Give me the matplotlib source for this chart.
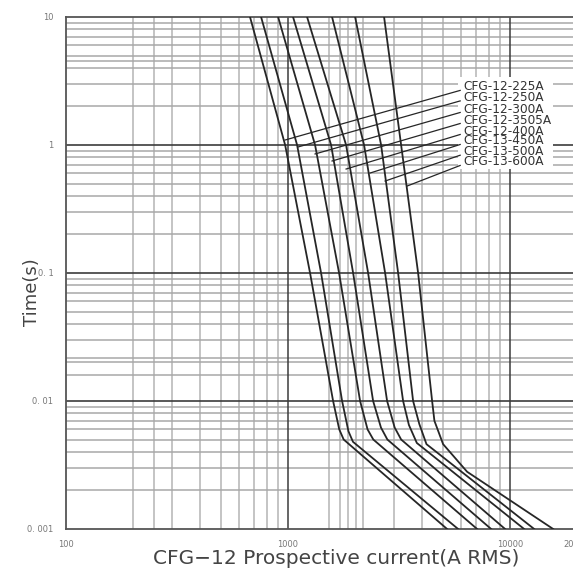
import matplotlib
matplotlib.use("Agg")
import matplotlib.pyplot as plt
from matplotlib.patches import Rectangle

# fuse curves: (prospective current A, time s)
names = ["CFG-12-225A", "CFG-12-250A", "CFG-12-300A", "CFG-12-3505A",
         "CFG-12-400A", "CFG-13-450A", "CFG-13-500A", "CFG-13-600A"]

times = [10, 1, 0.1, 0.01]
cur_top = [
    [674, 970, 1256, 1595],
    [756, 1098, 1408, 1751],
    [902, 1323, 1697, 2110],
    [1053, 1562, 1963, 2415],
    [1218, 1825, 2293, 2792],
    [1578, 2199, 2735, 3296],
    [2004, 2624, 3130, 3656],
    [2706, 3229, 3851, 4453],
]
# knee and tail of each curve: (current, time)
tails = [
    [(1700, 0.0060), (1780, 0.0050), (5200, 0.001)],
    [(1870, 0.0058), (1960, 0.0048), (5830, 0.001)],
    [(2280, 0.0060), (2420, 0.0050), (7100, 0.001)],
    [(2620, 0.0062), (2800, 0.0050), (8210, 0.001)],
    [(3020, 0.0062), (3230, 0.0050), (9490, 0.001)],
    [(3500, 0.0065), (3800, 0.0047), (11560, 0.001)],
    [(3900, 0.0066), (4200, 0.0046), (12830, 0.001)],
    [(4560, 0.0070), (4990, 0.0046), (6400, 0.0028), (15620, 0.001)],
]

# leader lines: point on curve, label position
lead_pts = [(970, 1.094), (1109, 0.965), (1323, 0.851), (1578, 0.75),
            (1825, 0.649), (2340, 0.604), (2735, 0.523), (3436, 0.478)]
lead_end = [2.67, 2.21, 1.795, 1.472, 1.208, 1.009, 0.832, 0.692]
label_t = [2.84, 2.36, 1.91, 1.567, 1.286, 1.075, 0.887, 0.737]
label_x = 5955

x_minor = [200, 250, 300, 400, 500, 600, 700, 800, 900,
           1530, 1715, 1860, 2020, 2180, 3000, 4000, 5000, 6000, 7000, 8000, 9000]
x_major = [1000, 10000]
y_minor = [2, 3, 4, 4.5, 5, 6, 7, 8, 9,
           0.2, 0.3, 0.4, 0.5, 0.6, 0.7, 0.8, 0.9,
           0.016, 0.02, 0.0217, 0.03, 0.04, 0.05, 0.06, 0.07, 0.08, 0.09,
           0.002, 0.003, 0.004, 0.005, 0.006, 0.007, 0.008, 0.009]
y_major = [1, 0.1, 0.01]

fig = plt.figure(figsize=(5.73, 5.70), dpi=100)
ax = fig.add_axes([66 / 573, 41 / 570, 511 / 573, 512 / 570])
ax.set_xscale("log")
ax.set_yscale("log")
ax.set_xlim(100, 20000)
ax.set_ylim(0.001, 10)

for v in x_minor:
    ax.axvline(v, color="#b4b4b4", lw=1.1, zorder=1)
for v in y_minor:
    ax.axhline(v, color="#a8a8a8", lw=1.1, zorder=1)
for v in x_major:
    ax.axvline(v, color="#3c3c3c", lw=1.1, zorder=2)
for v in y_major:
    ax.axhline(v, color="#3c3c3c", lw=1.2, zorder=2)

for top, tail in zip(cur_top, tails):
    xs = top + [p[0] for p in tail]
    ys = times + [p[1] for p in tail]
    ax.plot(xs, ys, color="#262626", lw=1.3, zorder=4)

# white panel behind the labels
ax.add_patch(Rectangle((5830, 0.655), 15620 - 5830, 3.4 - 0.655,
                       facecolor="white", edgecolor="none", zorder=3))

for (cx, cy), ey, ty, nm in zip(lead_pts, lead_end, label_t, names):
    ax.plot([cx, label_x], [cy, ey], color="#262626", lw=0.9, zorder=4)
    ax.text(label_x * 1.03, ty, nm, fontsize=8.7, color="#333333",
            va="center", ha="left", zorder=5)

for s in ["left", "bottom", "top"]:
    ax.spines[s].set_color("#555555")
    ax.spines[s].set_linewidth(1.3)
ax.spines["right"].set_visible(False)

ax.set_xticks([100, 1000, 10000, 20000])
ax.set_xticklabels(["100", "1000", "10000", "20000"])
ax.set_yticks([0.001, 0.01, 0.1, 1, 10])
ax.set_yticklabels(["0. 001", "0. 01", "0. 1", "1", "10"])
ax.minorticks_off()
ax.tick_params(length=0, labelsize=6, labelcolor="#777777")
ax.tick_params(axis="x", pad=8)
ax.tick_params(axis="y", pad=9)

fig.text(32 / 573, 1 - 292 / 570, "Time(s)", rotation=90, fontsize=13,
         color="#444444", ha="center", va="center")
fig.text(336 / 573, 1 - 558 / 570, "CFG\u221212 Prospective current(A RMS)",
         fontsize=14.5, color="#444444", ha="center", va="center")

fig.savefig("out.png", dpi=100)
